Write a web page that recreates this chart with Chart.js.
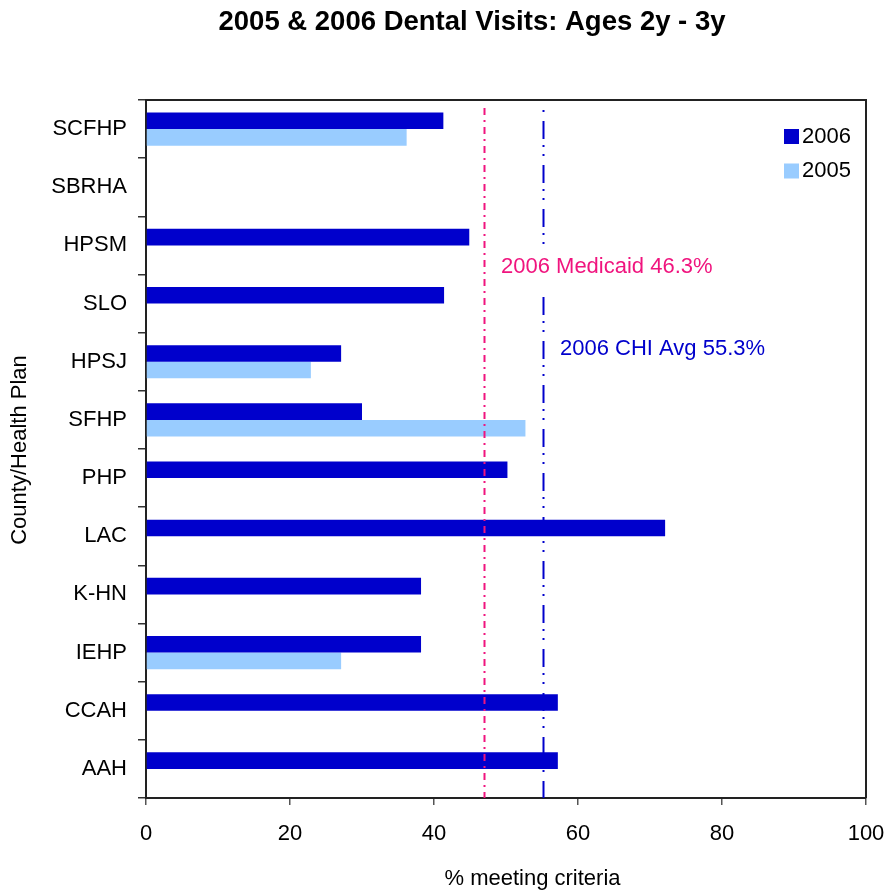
<!DOCTYPE html>
<html>
<head>
<meta charset="utf-8">
<script src="https://cdn.jsdelivr.net/npm/chart.js@4"></script>
<style>
html,body{margin:0;padding:0;background:#fff;}
canvas{display:block;}
</style>
</head>
<body>
<canvas id="c" width="889" height="894"></canvas>
<script>
const categories = ['SCFHP','SBRHA','HPSM','SLO','HPSJ','SFHP','PHP','LAC','K-HN','IEHP','CCAH','AAH'];
const values2006 = [41.3, null, 44.9, 41.4, 27.1, 30.0, 50.2, 72.1, 38.2, 38.2, 57.2, 57.2];
const values2005 = [36.2, null, null, null, 22.9, 52.7, null, null, null, 27.1, null, null];
const xTicks = [0, 20, 40, 60, 80, 100];
const refLineValues = [46.9, 55.2];
const refLineLabels = ['2006 Medicaid 46.3%', '2006 CHI Avg 55.3%'];
const seriesNames = ['2006', '2005'];

const FONT = "'Liberation Sans', Arial, sans-serif";
const C2006 = '#0000CC';
const C2005 = '#99CCFF';
const PINK = '#F0147E';
const BLUE = '#0000CC';

const overlay = {
  id: 'overlay',
  afterDatasetsDraw(chart) {
    const ctx = chart.ctx, a = chart.chartArea, xs = chart.scales.x;
    ctx.save();
    const styles = [
      {color: PINK, dash: [7,5,2,5], off: 0},
      {color: BLUE, dash: [18,6,2,7,2,9], off: 31}
    ];
    refLineValues.forEach((v, i) => {
      const px = Math.round(xs.getPixelForValue(v)) + 0.5;
      ctx.beginPath();
      ctx.strokeStyle = styles[i].color;
      ctx.lineWidth = 2;
      ctx.setLineDash(styles[i].dash);
      ctx.lineDashOffset = styles[i].off;
      ctx.moveTo(px, a.top + 8);
      ctx.lineTo(px, a.bottom);
      ctx.stroke();
    });
    ctx.setLineDash([]);
    ctx.fillStyle = '#fff';
    ctx.fillRect(496, 250, 230, 44);
    ctx.font = '22px ' + FONT;
    ctx.textBaseline = 'middle';
    ctx.textAlign = 'left';
    ctx.fillStyle = PINK;
    ctx.fillText(refLineLabels[0], 501, 267);
    ctx.fillStyle = BLUE;
    ctx.fillText(refLineLabels[1], 560, 349);
    ctx.strokeStyle = '#222';
    ctx.lineWidth = 2;
    ctx.beginPath();
    ctx.moveTo(a.left, a.top);
    ctx.lineTo(a.right, a.top);
    ctx.lineTo(a.right, a.bottom);
    ctx.stroke();
    const cols = [C2006, C2005];
    const ly = [136.5, 171];
    seriesNames.forEach((n, i) => {
      ctx.fillStyle = cols[i];
      ctx.fillRect(784, ly[i] - 7.5, 15, 15);
      ctx.fillStyle = '#000';
      ctx.font = '22px ' + FONT;
      ctx.textAlign = 'left';
      ctx.fillText(n, 802, ly[i]);
    });
    ctx.font = 'bold 27.5px ' + FONT;
    ctx.textAlign = 'center';
    ctx.fillStyle = '#000';
    ctx.fillText('2005 & 2006 Dental Visits: Ages 2y - 3y', 472, 22);
    ctx.font = '22px ' + FONT;
    ctx.fillText('% meeting criteria', 532.5, 879);
    ctx.translate(20, 450);
    ctx.rotate(-Math.PI / 2);
    ctx.fillText('County/Health Plan', 0, 0);
    ctx.restore();
  }
};

new Chart(document.getElementById('c'), {
  type: 'bar',
  data: {
    labels: categories,
    datasets: [
      {label: seriesNames[0], data: values2006, backgroundColor: C2006, categoryPercentage: 0.57, barPercentage: 1.0},
      {label: seriesNames[1], data: values2005, backgroundColor: C2005, categoryPercentage: 0.57, barPercentage: 1.0}
    ]
  },
  options: {
    indexAxis: 'y',
    responsive: false,
    animation: false,
    devicePixelRatio: 1,
    layout: {padding: {top: 100, right: 23, bottom: 0, left: 0}},
    plugins: {legend: {display: false}, title: {display: false}, tooltip: {enabled: false}},
    scales: {
      x: {
        min: 0, max: 100,
        afterFit(s) { s.height = 96; s.paddingLeft = 0; s.paddingRight = 0; },
        afterBuildTicks(s) { s.ticks = xTicks.map(v => ({value: v})); },
        ticks: {color: '#000', font: {family: FONT, size: 22}, padding: 16, maxRotation: 0},
        grid: {drawOnChartArea: false, drawTicks: true, tickLength: 7, color: '#555', lineWidth: 1.5},
        border: {display: true, color: '#222', width: 2}
      },
      y: {
        afterFit(s) { s.width = 146; s.paddingTop = 0; s.paddingBottom = 0; },
        ticks: {color: '#000', font: {family: FONT, size: 22}, padding: 11, autoSkip: false},
        grid: {drawOnChartArea: false, drawTicks: true, tickLength: 8, color: '#333', lineWidth: 1.5, offset: true},
        border: {display: true, color: '#222', width: 2}
      }
    }
  },
  plugins: [overlay]
});
</script>
</body>
</html>
